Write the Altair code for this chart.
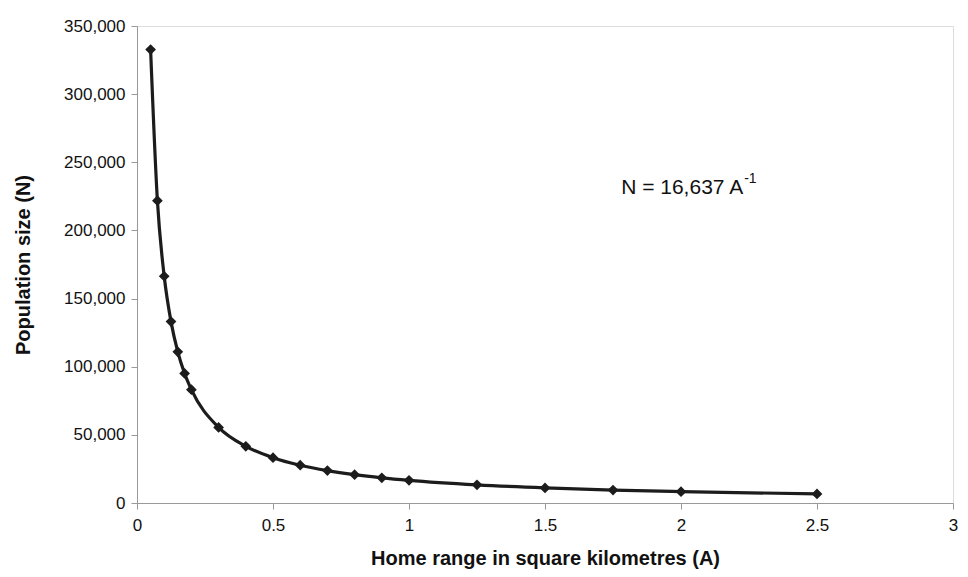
import altair as alt
import pandas as pd

home_range = [0.05, 0.075, 0.1, 0.125, 0.15, 0.175, 0.2, 0.3, 0.4, 0.5,
              0.6, 0.7, 0.8, 0.9, 1.0, 1.25, 1.5, 1.75, 2.0, 2.5]
population = [332740, 221827, 166370, 133096, 110913, 95069, 83185, 55457,
              41593, 33274, 27728, 23767, 20796, 18486, 16637, 13310,
              11091, 9507, 8319, 6655]

x_ticks = [0, 0.5, 1, 1.5, 2, 2.5, 3]
y_ticks = [0, 50000, 100000, 150000, 200000, 250000, 300000, 350000]

df = pd.DataFrame({"A": home_range, "N": population})

FONT = "Liberation Sans"
INK = "#1c1c1c"

x_enc = alt.X("A:Q", scale=alt.Scale(domain=[0, 3], nice=False),
              axis=alt.Axis(values=x_ticks, format="~g", title="Home range in square kilometres (A)",
                            labelFlush=False))
y_enc = alt.Y("N:Q", scale=alt.Scale(domain=[0, 350000], nice=False),
              axis=alt.Axis(values=y_ticks, format=",.0f", title="Population size (N)"))

base = alt.Chart(df)
line = base.mark_line(color=INK, strokeWidth=3.2, interpolate="monotone").encode(x=x_enc, y=y_enc)
pts = base.mark_point(shape="diamond", filled=True, color=INK, size=115, opacity=1).encode(x=x_enc, y=y_enc)

ann = pd.DataFrame({"A": [1.78], "N": [231000], "t": ["N = 16,637 A"], "s": ["-1"]})
txt = alt.Chart(ann).mark_text(align="left", baseline="middle", font=FONT, fontSize=21,
                               color="#111111").encode(x=x_enc, y=y_enc, text="t:N")
sup = alt.Chart(ann).mark_text(align="left", baseline="middle", font=FONT, fontSize=14,
                               color="#111111", dx=123, dy=-9).encode(x=x_enc, y=y_enc, text="s:N")

chart = alt.layer(line, pts, txt, sup).properties(
    width=816, height=477,
    autosize=alt.AutoSizeParams(type="none"),
    padding={"left": 129, "top": 18, "right": 7, "bottom": 66},
).configure_view(stroke=None).configure(background="white").configure_axis(
    grid=False, domainColor="#999999", tickColor="#999999", tickSize=6,
    labelFontSize=17, labelFont=FONT, labelColor="#111111",
    titleFontSize=20, titleFont=FONT, titleFontWeight="bold", titleColor="#111111",
).configure_axisX(labelPadding=8, titlePadding=15).configure_axisY(labelPadding=6, titlePadding=30)

chart.save("out.html", embed_options={"renderer": "svg", "actions": False})
